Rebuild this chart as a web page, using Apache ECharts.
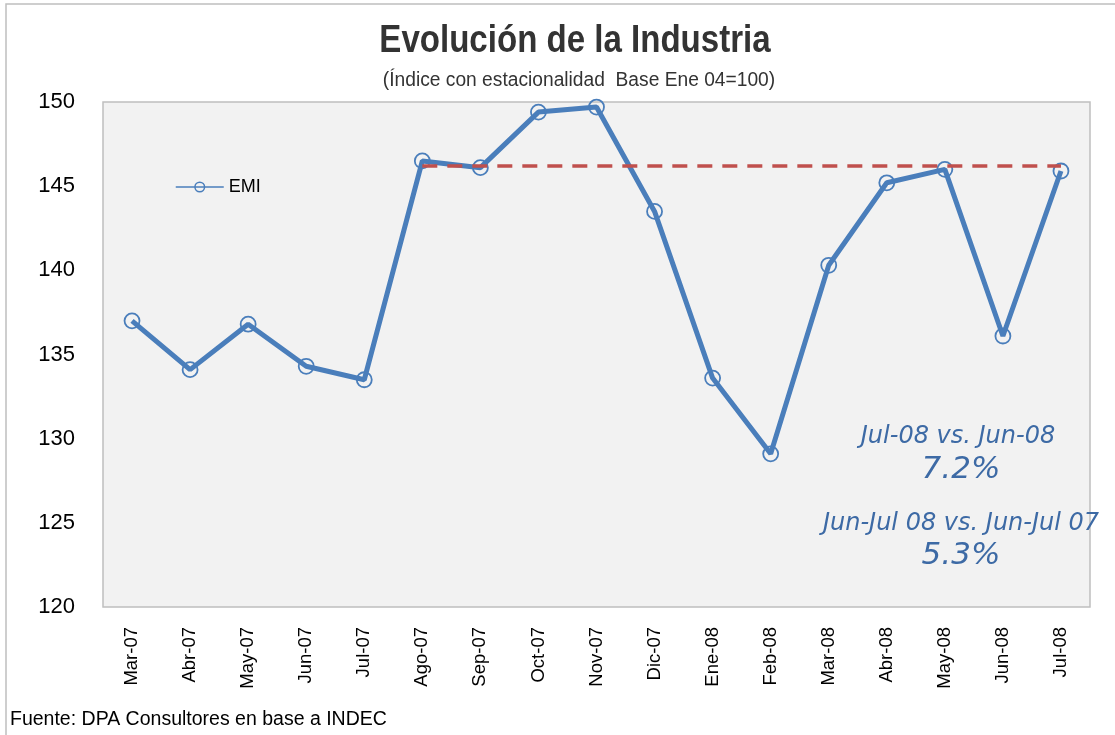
<!DOCTYPE html>
<html>
<head>
<meta charset="utf-8">
<script src="https://cdn.jsdelivr.net/npm/echarts@6/dist/echarts.min.js"></script>
<style>
  html, body { margin: 0; padding: 0; background: #fff; }
  #chart { width: 1115px; height: 735px; }
</style>
</head>
<body>
<div id="chart"></div>
<script>
// meses (eje x)
var categories = ['Mar-07', 'Abr-07', 'May-07', 'Jun-07', 'Jul-07', 'Ago-07', 'Sep-07', 'Oct-07',
  'Nov-07', 'Dic-07', 'Ene-08', 'Feb-08', 'Mar-08', 'Abr-08', 'May-08', 'Jun-08', 'Jul-08'];
// indice EMI
var emi = [137.0, 134.1, 136.8, 134.3, 133.5, 146.5, 146.1, 149.4, 149.7, 143.5,
  133.6, 129.1, 140.3, 145.2, 146.0, 136.1, 145.9];
// nivel de referencia (linea punteada)
var refLevel = 146.2;
var refFrom = 'Ago-07';
var refTo = 'Jul-08';
var yTicks = [120, 125, 130, 135, 140, 145, 150];

var sans = '"Liberation Sans", Arial, sans-serif';
var note = '"DejaVu Sans", Verdana, sans-serif';
var blue = '#4A7EBB';
var noteBlue = '#3D6AA5';

var myChart = echarts.init(document.getElementById('chart'));

var option = {
  backgroundColor: '#fff',
  animation: false,
  legend: {
    data: ['EMI'],
    left: 175,
    top: 178,
    padding: 0,
    itemWidth: 48,
    itemHeight: 12,
    itemGap: 6,
    lineStyle: { width: 1.5 },
    itemStyle: { borderWidth: 1.5 },
    textStyle: { fontFamily: sans, fontSize: 18, color: '#000' }
  },
  grid: {
    left: 103,
    right: 25,
    top: 102,
    bottom: 128,
    show: true,
    backgroundColor: '#F2F2F2',
    borderColor: '#BFBFBF',
    borderWidth: 1.5
  },
  xAxis: {
    type: 'category',
    data: categories,
    boundaryGap: true,
    axisLine: { show: false },
    axisTick: { show: false },
    axisLabel: { rotate: 90, margin: 20, fontFamily: sans, fontSize: 18.5, color: '#000', interval: 0 }
  },
  yAxis: {
    type: 'value',
    min: yTicks[0],
    max: yTicks[yTicks.length - 1],
    interval: 5,
    axisLine: { show: false },
    axisTick: { show: false },
    splitLine: { show: false },
    axisLabel: { margin: 28, fontFamily: sans, fontSize: 22, color: '#000' }
  },
  series: [
    {
      name: 'EMI',
      type: 'line',
      data: emi,
      symbol: 'circle',
      symbolSize: 15,
      lineStyle: { color: blue, width: 5 },
      itemStyle: { color: 'rgba(0,0,0,0)', borderColor: blue, borderWidth: 1.8 },
      z: 3,
      markLine: {
        silent: true,
        symbol: ['none', 'none'],
        label: { show: false },
        lineStyle: { color: '#C0504D', width: 3.5, type: [15, 10] },
        data: [[
          { coord: [refFrom, refLevel] },
          { coord: [refTo, refLevel] }
        ]]
      }
    }
  ],
  graphic: [
    {
      type: 'rect',
      shape: { x: 6, y: 4, width: 1120, height: 740 },
      style: { fill: 'none', stroke: '#BFBFBF', lineWidth: 1.5 },
      silent: true
    },
    {
      type: 'text', x: 575, y: 42, scaleX: 0.87,
      style: { text: 'Evolución de la Industria', font: 'bold 38px ' + sans, fill: '#333',
        align: 'center', verticalAlign: 'middle' }
    },
    {
      type: 'text', x: 579, y: 80, scaleX: 0.96,
      style: { text: '(Índice con estacionalidad  Base Ene 04=100)', font: '20px ' + sans, fill: '#333',
        align: 'center', verticalAlign: 'middle' }
    },
    {
      type: 'text', x: 10, y: 720,
      style: { text: 'Fuente: DPA Consultores en base a INDEC', font: '19.5px ' + sans, fill: '#000',
        verticalAlign: 'middle' }
    },
    {
      type: 'text', x: 958, y: 437,
      style: { text: 'Jul-08 vs. Jun-08', font: 'italic 24px ' + note,
        fill: noteBlue, align: 'center', verticalAlign: 'middle' }
    },
    {
      type: 'text', x: 961, y: 470,
      style: { text: '7.2%', font: 'italic 31px ' + note,
        fill: noteBlue, align: 'center', verticalAlign: 'middle' }
    },
    {
      type: 'text', x: 961, y: 524,
      style: { text: 'Jun-Jul 08 vs. Jun-Jul 07', font: 'italic 24px ' + note,
        fill: noteBlue, align: 'center', verticalAlign: 'middle' }
    },
    {
      type: 'text', x: 961, y: 556,
      style: { text: '5.3%', font: 'italic 31px ' + note,
        fill: noteBlue, align: 'center', verticalAlign: 'middle' }
    }
  ]
};

myChart.setOption(option);
</script>
</body>
</html>
